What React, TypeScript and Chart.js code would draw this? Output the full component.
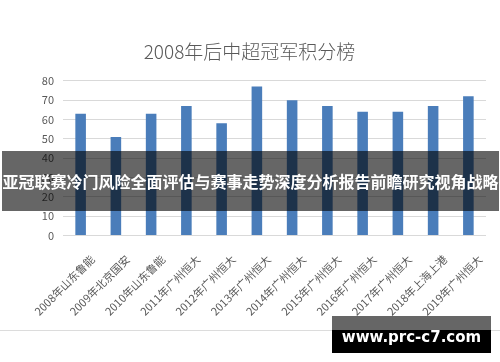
import React, { useEffect, useRef } from "react";
import { Chart, registerables } from "chart.js";

Chart.register(...registerables);

const TITLE = "2008年后中超冠军积分榜";
const categories = [
  "2008年山东鲁能",
  "2009年北京国安",
  "2010年山东鲁能",
  "2011年广州恒大",
  "2012年广州恒大",
  "2013年广州恒大",
  "2014年广州恒大",
  "2015年广州恒大",
  "2016年广州恒大",
  "2017年广州恒大",
  "2018年上海上港",
  "2019年广州恒大",
];
const points = [63, 51, 63, 67, 58, 77, 70, 67, 64, 64, 67, 72];
const yMin = 0;
const yMax = 80;
const yStep = 10;
const BANNER = "亚冠联赛冷门风险全面评估与赛事走势深度分析报告前瞻研究视角战略";
const WATERMARK = "www.prc-c7.com";

const CJK = '"Noto Sans CJK SC", "Noto Sans", sans-serif';

export default function App() {
  const ref = useRef<HTMLCanvasElement | null>(null);

  useEffect(() => {
    if (!ref.current) return;
    const chart = new Chart(ref.current, {
      type: "bar",
      data: {
        labels: categories,
        datasets: [
          {
            data: points,
            backgroundColor: "#4a7dba",
            barPercentage: 0.3,
            categoryPercentage: 1,
          },
        ],
      },
      options: {
        animation: false,
        responsive: false,
        maintainAspectRatio: false,
        devicePixelRatio: 1,
        layout: { padding: { left: 13, right: 14, top: 0, bottom: 5 } },
        plugins: {
          legend: { display: false },
          tooltip: { enabled: false },
          title: {
            display: true,
            text: TITLE,
            color: "#595959",
            font: { family: CJK, size: 19, weight: 300 as any },
            padding: { top: 40, bottom: 18 },
          },
        },
        scales: {
          x: {
            grid: { display: false, drawTicks: false },
            border: { display: false },
            afterFit: (scale: any) => {
              scale.paddingLeft = 0;
              scale.paddingRight = 0;
            },
            ticks: {
              autoSkip: false,
              maxRotation: 45,
              minRotation: 45,
              color: "#595959",
              padding: 17,
              labelOffset: 12,
              font: { family: CJK, size: 11 },
            },
          },
          y: {
            min: yMin,
            max: yMax,
            grid: { color: "#d9d9d9", drawTicks: false },
            border: { display: false },
            afterFit: (scale: any) => {
              scale.width = 50;
            },
            ticks: {
              stepSize: yStep,
              color: "#595959",
              padding: 9,
              font: { family: CJK, size: 11 },
            },
          },
        },
      },
    });
    return () => chart.destroy();
  }, []);

  return (
    <div
      style={{
        position: "absolute",
        left: 0,
        top: 0,
        width: 500,
        height: 362,
        background: "#fff",
        overflow: "hidden",
      }}
    >
      <canvas
        ref={ref}
        width={500}
        height={340}
        style={{ position: "absolute", left: 0, top: 0, width: 500, height: 340 }}
      />
      <div
        style={{
          position: "absolute",
          left: 0,
          top: 330,
          width: 500,
          height: 32,
          background: "#fff",
        }}
      />
      <div
        style={{
          position: "absolute",
          left: 0,
          top: 330,
          width: 500,
          height: 1,
          background: "#dcdcdc",
        }}
      />
      <div
        style={{
          position: "absolute",
          left: 2,
          top: 151,
          width: 497,
          height: 60,
          background: "rgba(0,0,0,0.6)",
          color: "#fff",
          fontFamily: CJK,
          fontWeight: 700,
          fontSize: 16,
          lineHeight: "60px",
          textAlign: "center",
          whiteSpace: "nowrap",
        }}
      >
        {BANNER}
      </div>
      <div
        style={{
          position: "absolute",
          left: 332,
          top: 316,
          width: 159,
          height: 14,
          background: "#666",
        }}
      />
      <div
        style={{
          position: "absolute",
          left: 332,
          top: 330,
          width: 159,
          height: 23,
          background: "#000",
        }}
      />
      <div
        style={{
          position: "absolute",
          left: 332,
          top: 316,
          width: 159,
          height: 37,
          color: "#fff",
          fontFamily: '"DejaVu Sans", sans-serif',
          fontWeight: 700,
          fontSize: 15,
          lineHeight: "42px",
          textAlign: "center",
          whiteSpace: "nowrap",
        }}
      >
        {WATERMARK}
      </div>
    </div>
  );
}
